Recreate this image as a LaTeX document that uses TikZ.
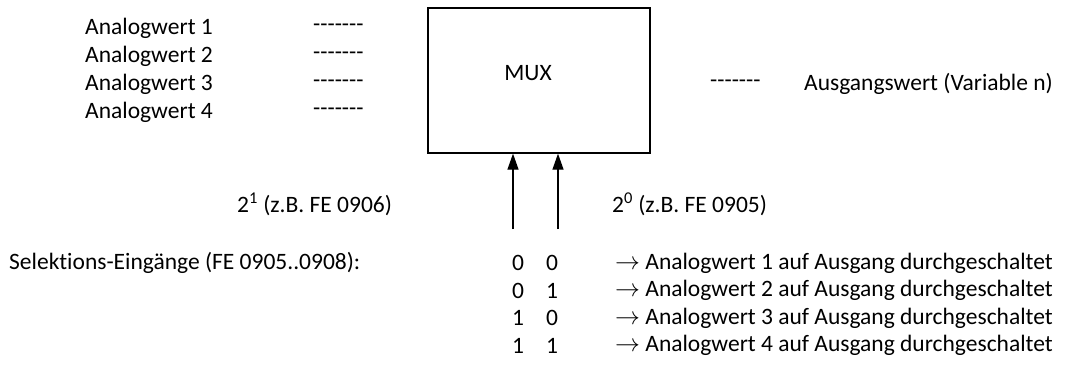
\documentclass[tikz,border=0pt]{standalone}
\usepackage{fontspec}
\setmainfont{Carlito}[Ligatures={NoCommon}]
\usepackage{tikz}
\usetikzlibrary{arrows.meta}
\newcommand{\wire}{-{}-{}-{}-{}-{}-{}-}
\tikzset{
  txt/.style={font=\fontsize{23.5}{28}\selectfont, inner sep=0pt, anchor=west},
  midtxt/.style={font=\fontsize{23.5}{28}\selectfont, inner sep=0pt, anchor=center},
  muxbox/.style={rectangle, draw=black, line width=1.3pt, minimum width=222pt, minimum height=145pt, inner sep=0pt},
  selarrow/.style={-{Triangle[length=16pt,width=11pt]}, line width=1.3pt, draw=black},
}
\begin{document}
\begin{tikzpicture}[x=1pt,y=-1pt]
  \useasboundingbox (0,0) rectangle (1067,367);

  % --- inputs ---
  \foreach \i in {1,...,4} {
    \node[txt] (a\i) at (85,{28*\i}) {Analogwert \i};
    \node[txt] (w\i) at (313,{28*\i}) {\wire};
  }

  \node[muxbox] (mux) at (539,80.5) {};
  \node[midtxt] (muxlabel) at (528,73) {MUX};

  % --- output ---
  \node[txt] (wout) at (710,84) {\wire};
  \node[txt] (out) at (804,84) {Ausgangswert (Variable n)};

  % --- select lines ---
  \coordinate (s1) at (513,229);
  \coordinate (s0) at (558,229);
  \draw[selarrow] (s1) -- (s1 |- mux.south);
  \draw[selarrow] (s0) -- (s0 |- mux.south);
  \node[txt] (bit1) at (237,204) {2\textsuperscript{1} (z.B. FE 0906)};
  \node[txt] (bit0) at (612,204) {2\textsuperscript{0} (z.B. FE 0905)};

  % --- table ---
  \node[txt] (sel) at (9,263) {Selektions-Eingänge (FE 0905..0908):};
  \foreach \i/\b/\c/\y in {1/0/0/263, 2/0/1/290.5, 3/1/0/318, 4/1/1/345.5} {
    \node[midtxt] (b\i) at (518,\y) {\b};
    \node[midtxt] (c\i) at (552,\y) {\c};
    \node[txt] (r\i) at (615,\y) {$\rightarrow$ Analogwert \i{} auf Ausgang durchgeschaltet};
  }
\end{tikzpicture}
\end{document}
